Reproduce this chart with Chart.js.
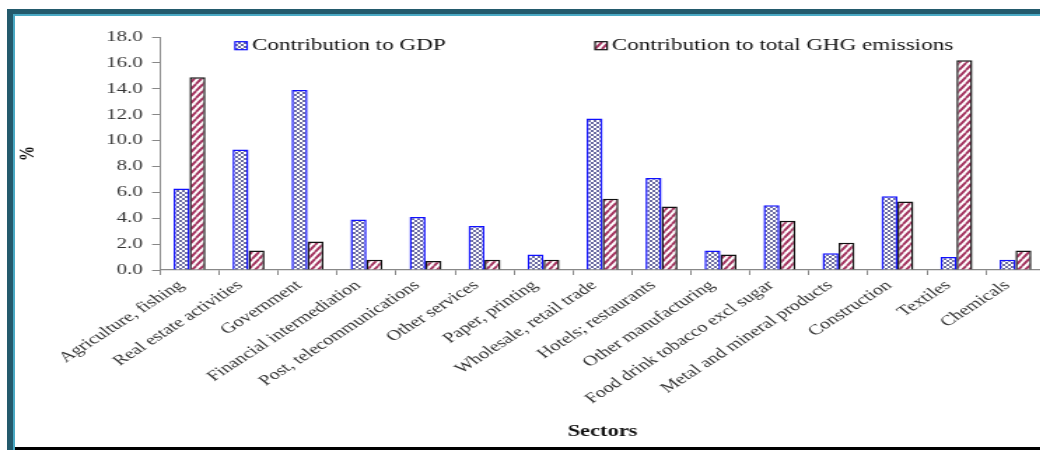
<!DOCTYPE html>
<html>
<head>
<meta charset="utf-8">
<script src="https://cdn.jsdelivr.net/npm/chart.js@4.4.0/dist/chart.umd.min.js"></script>
<style>
  html, body { margin: 0; padding: 0; width: 1040px; height: 450px; overflow: hidden; background: #fff; }
  /* the figure is set wide: the whole chart is stretched horizontally */
  #wrap { position: absolute; left: 0; top: 0; width: 760px; height: 450px; transform: scaleX(1.4); transform-origin: 0 0; }
  .edge { position: absolute; z-index: 2; }
  #topDark   { left: 7px;  top: 9px;   width: 1033px; height: 5px;   background: #235a6c; }
  #topLight  { left: 13px; top: 14px;  width: 1027px; height: 2px;   background: #4aa9c4; }
  #leftDark  { left: 7px;  top: 9px;   width: 6px;    height: 441px; background: #235a6c; }
  #leftLight { left: 13px; top: 14px;  width: 2px;    height: 436px; background: #4aa9c4; }
  #bottomBar { left: 15px; top: 447px; width: 1025px; height: 3px;   background: #000; }
</style>
</head>
<body>
<div id="wrap"><canvas id="chart" width="760" height="450"></canvas></div>
<div class="edge" id="topDark"></div>
<div class="edge" id="topLight"></div>
<div class="edge" id="leftDark"></div>
<div class="edge" id="leftLight"></div>
<div class="edge" id="bottomBar"></div>
<script>
// Sector shares (%) of GDP and of total greenhouse-gas emissions
const sectors = [
  'Agriculture, fishing', 'Real estate activities', 'Government', 'Financial intermediation',
  'Post, telecommunications', 'Other services', 'Paper, printing', 'Wholesale, retail trade',
  'Hotels; restaurants', 'Other manufacturing', 'Food drink tobacco excl sugar',
  'Metal and mineral products', 'Construction', 'Textiles', 'Chemicals'
];
const gdpShare = [6.3, 9.3, 13.9, 3.9, 4.1, 3.4, 1.2, 11.7, 7.1, 1.5, 5.0, 1.3, 5.7, 1.0, 0.8];
const ghgShare = [14.9, 1.5, 2.2, 0.8, 0.7, 0.8, 0.8, 5.5, 4.9, 1.2, 3.8, 2.1, 5.3, 16.2, 1.5];
const seriesNames = ['Contribution to GDP', 'Contribution to total GHG emissions'];
const yMin = 0, yMax = 18, yStep = 2;
const xTitle = 'Sectors';
const yTitle = '%';

const SERIF = '"Liberation Serif", "Times New Roman", serif';

// fill patterns: small checks for GDP, diagonal hatch for emissions
function checkPattern() {
  const c = document.createElement('canvas');
  c.width = 4; c.height = 4;
  const g = c.getContext('2d');
  g.fillStyle = '#ffffff'; g.fillRect(0, 0, 4, 4);
  g.fillStyle = '#6c6ca2';
  g.fillRect(0, 0, 2, 2); g.fillRect(2, 2, 2, 2);
  return g.createPattern(c, 'repeat');
}
function hatchPattern() {
  const w = 5, h = 7;
  const c = document.createElement('canvas');
  c.width = w; c.height = h;
  const g = c.getContext('2d');
  g.fillStyle = '#ffffff'; g.fillRect(0, 0, w, h);
  g.strokeStyle = '#a3335f'; g.lineWidth = 2;
  g.beginPath();
  g.moveTo(0, h); g.lineTo(w, 0);
  g.moveTo(-w, h); g.lineTo(0, 0);
  g.moveTo(w, h); g.lineTo(2 * w, 0);
  g.stroke();
  return g.createPattern(c, 'repeat');
}

// legend drawn inside the plot area, spread out across the top
const insetLegend = {
  id: 'insetLegend',
  afterDraw(chart) {
    const { ctx, chartArea: a } = chart;
    const w = a.right - a.left;
    const spots = [0.0848, 0.4916];
    chart.data.datasets.forEach((ds, i) => {
      const x = a.left + spots[i] * w;
      const y = a.top + 4.7;
      ctx.save();
      ctx.fillStyle = ds.backgroundColor;
      ctx.fillRect(x, y, 8.6, 8);
      ctx.strokeStyle = ds.borderColor;
      ctx.lineWidth = 1.2;
      ctx.strokeRect(x, y, 8.6, 8);
      ctx.fillStyle = '#111';
      ctx.font = '16.5px ' + SERIF;
      ctx.textBaseline = 'middle';
      ctx.textAlign = 'left';
      ctx.fillText(ds.label, x + 12, a.top + 8.5);
      ctx.restore();
    });
  }
};

new Chart(document.getElementById('chart'), {
  type: 'bar',
  data: {
    labels: sectors,
    datasets: [
      {
        label: seriesNames[0],
        data: gdpShare,
        backgroundColor: checkPattern(),
        borderColor: '#1010ff',
        borderWidth: 1.5,
        categoryPercentage: 0.54,
        barPercentage: 1.0
      },
      {
        label: seriesNames[1],
        data: ghgShare,
        backgroundColor: hatchPattern(),
        borderColor: '#111',
        borderWidth: 1.5,
        categoryPercentage: 0.54,
        barPercentage: 1.0
      }
    ]
  },
  options: {
    responsive: false,
    animation: false,
    layout: { padding: { left: 0, right: 13.6, top: 37, bottom: 0 } },
    plugins: {
      legend: { display: false },
      tooltip: { enabled: false }
    },
    scales: {
      x: {
        grid: { display: true, drawOnChartArea: false, offset: true, tickLength: 5, color: '#888' },
        border: { color: '#888', width: 1.3 },
        ticks: {
          autoSkip: false, minRotation: 42, maxRotation: 42, padding: 2, labelOffset: -6,
          color: '#333', font: { family: SERIF, size: 14.5 }
        },
        title: {
          display: true, text: xTitle, color: '#111',
          font: { family: SERIF, size: 16, weight: 'bold' },
          padding: { top: 0, bottom: 9 }
        },
        afterFit(scale) { scale.height = 180; }
      },
      y: {
        min: yMin, max: yMax,
        grid: { drawOnChartArea: false, tickLength: 5.7, color: '#888' },
        border: { color: '#888', width: 1 },
        ticks: {
          stepSize: yStep, padding: 6.5, color: '#333',
          font: { family: SERIF, size: 15 },
          callback: v => Number(v).toFixed(1)
        },
        title: {
          display: true, text: yTitle, color: '#111',
          font: { family: SERIF, size: 15, weight: 'bold' },
          padding: { top: 11, bottom: 0 }
        },
        afterFit(scale) { scale.width = 114.3; }
      }
    }
  },
  plugins: [insetLegend]
});
</script>
</body>
</html>
